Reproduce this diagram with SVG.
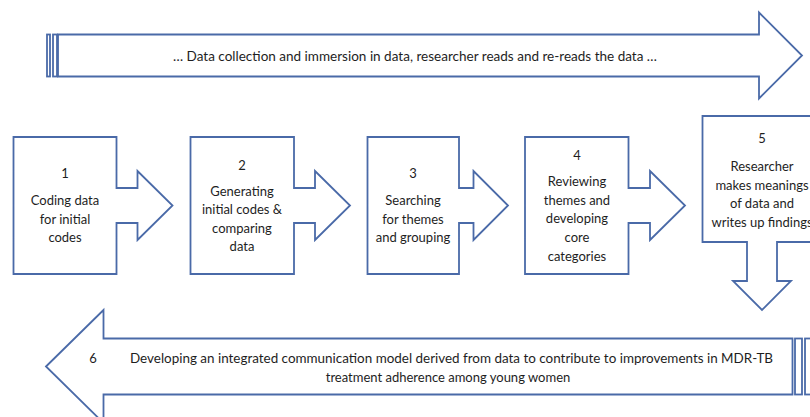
<svg xmlns="http://www.w3.org/2000/svg" width="810" height="417" viewBox="0 0 810 417">
  <style>
    .shape { fill: #ffffff; stroke: #4a6aa8; stroke-width: 1.8; stroke-linejoin: miter; }
    .label { font-family: Lato, "Open Sans", "Liberation Sans", sans-serif; font-size: 13px; fill: #1e1e1e; text-anchor: middle; }
  </style>
  <rect width="810" height="417" fill="#ffffff"/>

  <!-- top banner: striped arrow pointing right -->
  <g id="immersion">
    <rect class="shape" x="47" y="34.5" width="3" height="42"/>
    <rect class="shape" x="53" y="34.5" width="4" height="42"/>
    <path class="shape" d="M58,34.5 H759 V12.5 L802,55.5 L759,98.5 V76.5 H58 Z"/>
    <text class="label" x="415" y="61" textLength="484" lengthAdjust="spacingAndGlyphs">… Data collection and immersion in data, researcher reads and re-reads the data …</text>
  </g>

  <!-- step boxes, each a right-arrow callout -->
  <g id="step1">
    <path class="shape" d="M13.5,137 H116.5 V188 H137.5 V171 L172.5,205.5 L137.5,240 V223 H116.5 V274 H13.5 Z"/>
    <text class="label" x="65" y="178">1</text>
    <text class="label" x="65" y="205">Coding data</text>
    <text class="label" x="65" y="223.5">for initial</text>
    <text class="label" x="65" y="242">codes</text>
  </g>

  <g id="step2">
    <path class="shape" d="M190.5,137 H294 V188 H315 V171 L350,205.5 L315,240 V223 H294 V274 H190.5 Z"/>
    <text class="label" x="242" y="169.5">2</text>
    <text class="label" x="242" y="196">Generating</text>
    <text class="label" x="242" y="214">initial codes &amp;</text>
    <text class="label" x="242" y="232.5">comparing</text>
    <text class="label" x="242" y="251">data</text>
  </g>

  <g id="step3">
    <path class="shape" d="M367.5,137 H459 V188 H473.5 V171 L508,205.5 L473.5,240 V223 H459 V274 H367.5 Z"/>
    <text class="label" x="413" y="177.5">3</text>
    <text class="label" x="413" y="205">Searching</text>
    <text class="label" x="413" y="223.5">for themes</text>
    <text class="label" x="413" y="242">and grouping</text>
  </g>

  <g id="step4">
    <path class="shape" d="M525,137 H628.5 V188 H650 V171 L685,205.5 L650,240 V223 H628.5 V274 H525 Z"/>
    <text class="label" x="577" y="159.5">4</text>
    <text class="label" x="577" y="186">Reviewing</text>
    <text class="label" x="577" y="204.5">themes and</text>
    <text class="label" x="577" y="223">developing</text>
    <text class="label" x="577" y="242">core</text>
    <text class="label" x="577" y="260.5">categories</text>
  </g>

  <!-- step 5: down-arrow callout running off the right edge -->
  <g id="step5">
    <path class="shape" d="M702.5,116 H822 V242 H777 V281 H791 L762,310 L733,281 H747 V242 H702.5 Z"/>
    <text class="label" x="762" y="143">5</text>
    <text class="label" x="762" y="171">Researcher</text>
    <text class="label" x="762" y="189.5">makes meanings</text>
    <text class="label" x="762" y="208">of data and</text>
    <text class="label" x="762" y="226.5">writes up findings</text>
  </g>

  <!-- bottom banner: striped arrow pointing left -->
  <g id="step6">
    <path class="shape" d="M46,366.5 L103.5,310 V338.5 H792.5 V394.5 H103.5 V423 Z"/>
    <rect class="shape" x="795" y="338.5" width="7" height="56"/>
    <rect class="shape" x="805" y="338.5" width="10" height="56"/>
    <text class="label" x="93" y="362.5">6</text>
    <text class="label" x="451.5" y="362.5" textLength="643" lengthAdjust="spacingAndGlyphs">Developing an integrated communication model derived from data to contribute to improvements in MDR-TB</text>
    <text class="label" x="448" y="381.5">treatment adherence among young women</text>
  </g>

  <g id="connectors"/>
</svg>
